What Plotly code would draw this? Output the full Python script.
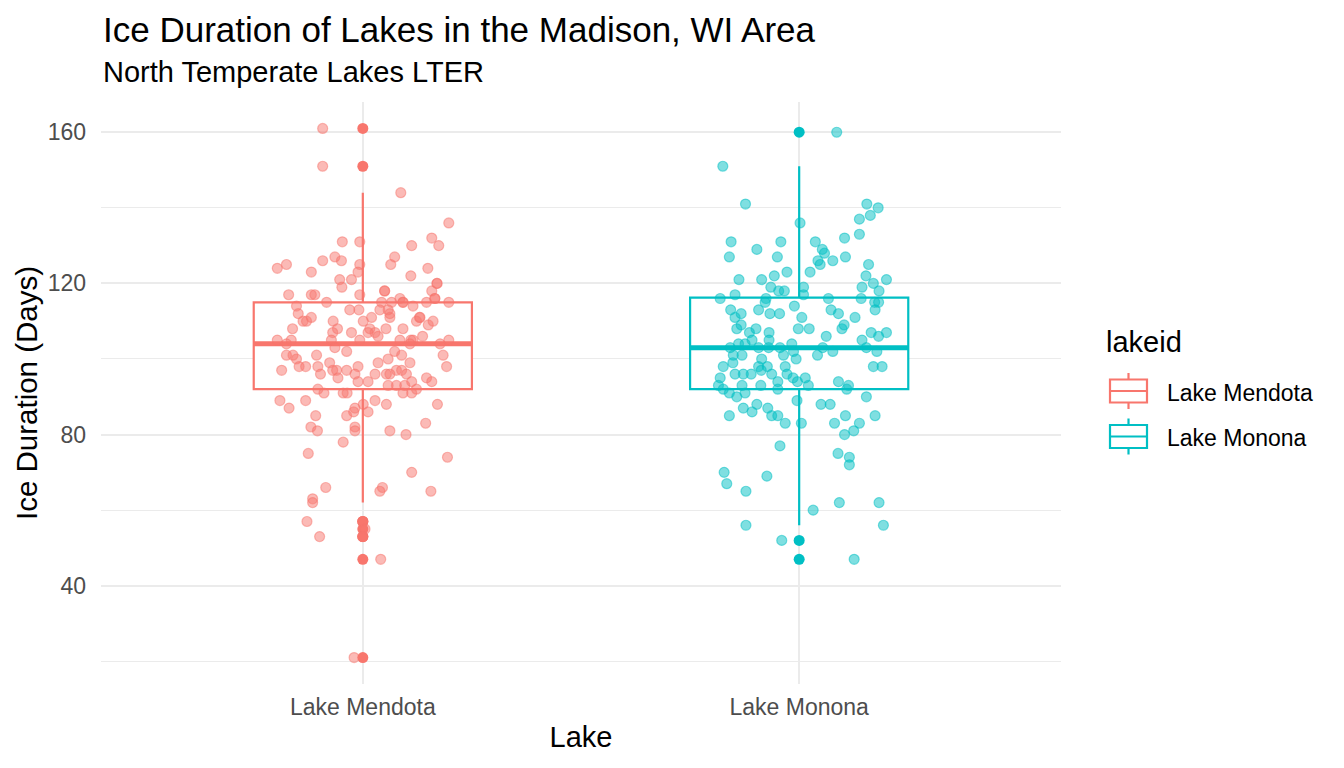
import numpy as np
import plotly.graph_objects as go

lakes = ["Lake Mendota", "Lake Monona"]
colors = ["#F8766D", "#00BFC4"]
colors_a = ["rgba(248,118,109,0.5)", "rgba(0,191,196,0.5)"]

mendota_days = [161, 151, 144, 136, 132, 131, 131, 130, 130, 127, 127, 124, 125, 123, 126, 126, 125, 123, 125, 124,
                122, 121, 121, 119, 120, 118, 117, 117, 117, 118, 115, 115, 115, 116, 115, 115, 116, 115, 114, 113,
                113, 113, 113, 114, 112, 111, 110, 112, 111, 111, 110, 110, 110, 108, 108, 107, 107, 108, 107, 107,
                106, 108, 108, 106, 109, 110, 105, 104, 105, 105, 105, 105, 105, 104, 104, 105, 103, 102, 101, 101,
                101, 100, 101, 102, 101, 100, 99, 99, 98, 98, 97, 98, 99, 97, 97, 97, 98, 96, 97, 97,
                96, 98, 96, 95, 96, 96, 96, 94, 95, 94, 94, 94, 92, 93, 93, 93, 92, 89, 89, 91,
                91, 91, 89, 88, 91, 91, 88, 87, 85, 85, 86, 87, 88, 86, 82, 81, 82, 81, 81, 80,
                83, 78, 75, 74, 70, 66, 66, 65, 65, 63, 62, 57, 57, 55, 53, 53, 47, 21,
                117, 110, 111, 111, 116, 118, 115, 120, 105]
mendota_jitter = [-0.092, -0.092, 0.087, 0.197, 0.158, -0.047, -0.007, 0.112, 0.174, -0.064, 0.073, -0.196, -0.175, -0.118, -0.092, -0.049, -0.007, -0.011, 0.064, 0.149,
                  0.110, -0.053, -0.026, -0.048, 0.170, 0.158, -0.170, -0.118, -0.007, 0.050, -0.083, 0.043, 0.066, 0.085, 0.092, 0.146, 0.165, 0.197, -0.152, -0.030,
                  -0.009, 0.039, 0.058, 0.115, -0.148, -0.118, -0.137, 0.062, 0.020, 0.131, 0.001, 0.123, -0.068, -0.161, -0.058, -0.069, -0.026, 0.016, 0.028, 0.012,
                  0.035, 0.053, 0.092, 0.137, 0.150, 0.161, -0.196, -0.175, -0.164, -0.072, -0.007, 0.085, 0.115, 0.108, 0.177, 0.197, -0.064, 0.073, 0.184, -0.175,
                  -0.160, -0.152, -0.106, -0.037, 0.089, 0.058, 0.035, 0.108, -0.146, -0.131, -0.186, -0.103, -0.076, -0.069, -0.060, -0.037, -0.011, 0.054, 0.077, 0.089,
                  0.100, 0.192, -0.097, -0.057, -0.018, 0.028, 0.062, 0.112, 0.146, 0.158, -0.011, 0.012, -0.103, 0.058, 0.077, 0.096, 0.123, -0.190, -0.131, -0.089,
                  -0.045, -0.036, 0.028, 0.054, 0.092, 0.112, 0.171, -0.169, -0.108, -0.037, -0.021, -0.018, 0.001, 0.012, -0.119, -0.104, -0.018, -0.018, 0.062, 0.099,
                  0.144, -0.045, -0.125, 0.194, 0.112, -0.085, 0.045, 0.039, 0.156, -0.115, -0.115, -0.128, 0.000, 0.005, 0.000, -0.099, 0.041, -0.020,
                  -0.110, -0.129, 0.062, 0.130, 0.165, 0.050, 0.092, 0.170, 0.110]

monona_days = [160, 151, 141, 141, 140, 137, 138, 136, 131, 129, 131, 131, 132, 133, 127, 127, 129, 128, 127, 126,
               125, 126, 125, 123, 123, 121, 121, 122, 122, 119, 118, 118, 119, 117, 119, 120, 118, 121, 116, 117,
               116, 115, 114, 116, 116, 115, 115, 113, 113, 112, 111, 113, 112, 112, 113, 112, 111, 111, 109, 108,
               107, 108, 107, 108, 108, 108, 109, 106, 107, 106, 107, 105, 105, 103, 104, 104, 105, 103, 103, 103,
               104, 102, 103, 102, 103, 102, 101, 101, 100, 101, 100, 101, 98, 99, 98, 97, 98, 98, 98, 98,
               96, 96, 96, 96, 96, 95, 95, 95, 93, 92, 93, 93, 94, 94, 93, 94, 93, 92, 91, 90,
               92, 90, 91, 89, 88, 88, 87, 88, 87, 85, 86, 85, 85, 83, 83, 83, 85, 83, 81, 85,
               80, 77, 75, 74, 72, 70, 67, 69, 65, 62, 62, 60, 56, 56, 52, 47]
monona_jitter = [0.086, -0.175, -0.123, 0.155, 0.181, 0.138, 0.163, 0.002, -0.156, -0.097, -0.042, 0.037, 0.104, 0.138, -0.160, -0.050, 0.053, 0.058, 0.106, 0.043,
                 0.048, 0.077, 0.159, -0.028, 0.025, -0.138, -0.086, -0.057, 0.153, -0.065, -0.047, -0.034, 0.010, 0.010, 0.144, 0.170, 0.183, 0.200, -0.181, -0.147,
                 -0.076, -0.078, -0.011, 0.067, 0.142, 0.173, 0.182, 0.174, -0.157, -0.133, -0.147, -0.093, -0.067, -0.045, 0.073, 0.090, 0.128, 0.006, -0.133, -0.143,
                 -0.114, -0.099, -0.069, -0.002, 0.023, 0.098, 0.103, 0.062, 0.165, 0.182, 0.200, -0.069, 0.144, -0.158, -0.139, -0.124, -0.108, -0.093, -0.070, -0.044,
                 -0.017, -0.013, 0.054, 0.077, 0.154, 0.178, -0.151, -0.131, -0.086, -0.036, -0.007, 0.042, -0.174, -0.152, -0.093, -0.087, -0.073, -0.032, 0.170, 0.190,
                 -0.147, -0.128, -0.110, -0.063, -0.028, -0.014, 0.014, -0.181, -0.185, -0.174, -0.131, -0.088, -0.049, -0.004, 0.021, 0.090, 0.113, 0.109, -0.160, -0.143,
                 -0.049, 0.154, -0.124, -0.005, 0.050, 0.071, -0.128, -0.097, -0.072, -0.160, -0.108, -0.063, -0.049, -0.032, 0.005, 0.081, 0.106, 0.138, 0.125, 0.174,
                 0.104, -0.044, 0.089, 0.115, 0.115, -0.172, -0.166, -0.074, -0.122, 0.092, 0.183, 0.032, -0.122, 0.193, -0.040, 0.126]

data = [(mendota_days, mendota_jitter), (monona_days, monona_jitter)]

FONT = "Liberation Sans, Arial, Helvetica, sans-serif"
BOX_W = 0.5
W, H = 1344, 768
ML, MT, PW, PH = 101, 102, 960, 582


def px(x):
    return (x - ML) / PW


def py(y):
    return 1 - (y - MT) / PH


def box_stats(v):
    v = np.asarray(v, dtype=float)
    q1, med, q3 = np.percentile(v, [25, 50, 75])
    iqr = q3 - q1
    lo, hi = q1 - 1.5 * iqr, q3 + 1.5 * iqr
    lw = v[v >= lo].min()
    uw = v[v <= hi].max()
    out = v[(v < lo) | (v > hi)]
    return q1, med, q3, lw, uw, out


fig = go.Figure()

for i, (lake, (days, jit)) in enumerate(zip(lakes, data)):
    pos = i + 1
    q1, med, q3, lw, uw, out = box_stats(days)
    fig.add_trace(go.Box(
        x=[pos], q1=[q1], median=[med], q3=[q3], lowerfence=[lw], upperfence=[uw],
        width=BOX_W, whiskerwidth=0, fillcolor="white",
        line=dict(color=colors[i], width=2.2), boxpoints=False,
        name=lake, showlegend=False, hoverinfo="skip"))
    fig.add_trace(go.Scatter(
        x=[pos - BOX_W / 2, pos + BOX_W / 2], y=[med, med], mode="lines",
        line=dict(color=colors[i], width=5), showlegend=False, hoverinfo="skip"))
    fig.add_trace(go.Scatter(
        x=[pos] * len(out), y=out, mode="markers",
        marker=dict(color=colors[i], size=11, line=dict(width=0)),
        showlegend=False, hoverinfo="skip"))

for i, (lake, (days, jit)) in enumerate(zip(lakes, data)):
    pos = i + 1
    fig.add_trace(go.Scatter(
        x=[pos + j for j in jit], y=days, mode="markers", name=lake,
        marker=dict(color=colors_a[i], size=10, line=dict(width=1.2, color=colors_a[i])),
        showlegend=False, hoverinfo="skip"))

# legend ("lakeid") drawn as ggplot-style box keys
shapes = []
annotations = [
    dict(text="Ice Duration of Lakes in the Madison, WI Area", xref="paper", yref="paper",
         x=px(101), y=py(29), xanchor="left", yanchor="middle", showarrow=False,
         font=dict(size=35, color="black", family=FONT)),
    dict(text="North Temperate Lakes LTER", xref="paper", yref="paper",
         x=px(101), y=py(72), xanchor="left", yanchor="middle", showarrow=False,
         font=dict(size=29, color="black", family=FONT)),
    dict(text="lakeid", xref="paper", yref="paper",
         x=px(1104), y=py(342), xanchor="left", yanchor="middle", showarrow=False,
         font=dict(size=29, color="black", family=FONT)),
]
key_centers = [391, 436.5]
for i, lake in enumerate(lakes):
    cy = key_centers[i]
    c = colors[i]
    shapes.append(dict(type="rect", xref="paper", yref="paper",
                       x0=px(1110), x1=px(1147), y0=py(cy - 11.5), y1=py(cy + 11.5),
                       line=dict(color=c, width=2.2), fillcolor="white"))
    shapes.append(dict(type="line", xref="paper", yref="paper",
                       x0=px(1110), x1=px(1147), y0=py(cy), y1=py(cy),
                       line=dict(color=c, width=2.2)))
    shapes.append(dict(type="line", xref="paper", yref="paper",
                       x0=px(1128.5), x1=px(1128.5), y0=py(cy - 18), y1=py(cy - 11.5),
                       line=dict(color=c, width=2.2)))
    shapes.append(dict(type="line", xref="paper", yref="paper",
                       x0=px(1128.5), x1=px(1128.5), y0=py(cy + 11.5), y1=py(cy + 18),
                       line=dict(color=c, width=2.2)))
    annotations.append(dict(text=lake, xref="paper", yref="paper",
                            x=px(1165), y=py(cy + 1.5), xanchor="left", yanchor="middle",
                            showarrow=False, font=dict(size=23, color="black", family=FONT)))

fig.update_layout(
    width=W, height=H,
    margin=dict(l=ML, r=W - ML - PW, t=MT, b=H - MT - PH, autoexpand=False),
    paper_bgcolor="white", plot_bgcolor="white",
    font=dict(family=FONT, color="black"),
    showlegend=False,
    xaxis=dict(
        range=[0.4, 2.6], tickmode="array", tickvals=[1, 2], ticktext=lakes,
        showgrid=True, gridcolor="#EBEBEB", gridwidth=2, zeroline=False,
        showline=False, ticks="", tickfont=dict(size=23, color="#4D4D4D"),
        ticklabelstandoff=7,
        title=dict(text="Lake", font=dict(size=29, color="black"), standoff=7)),
    yaxis=dict(
        range=[14, 168], tick0=0, dtick=40,
        showgrid=True, gridcolor="#EBEBEB", gridwidth=2, zeroline=False,
        showline=False, ticks="", tickfont=dict(size=23, color="#4D4D4D"),
        ticklabelstandoff=14,
        minor=dict(tick0=0, dtick=20, showgrid=True, gridcolor="#EBEBEB", gridwidth=1),
        title=dict(text="Ice Duration (Days)", font=dict(size=29.5, color="black"), standoff=1)),
    shapes=shapes,
    annotations=annotations,
)

fig.write_html("out.html", config={"displayModeBar": False},
               post_script="document.body.style.margin='0px';")
